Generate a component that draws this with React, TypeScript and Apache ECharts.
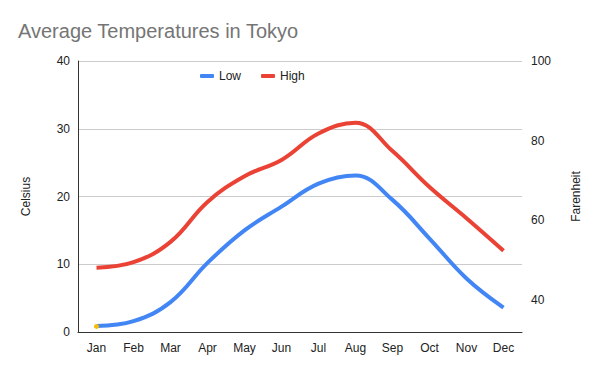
import React, { useEffect, useRef } from "react";
import * as echarts from "echarts";

const months = ["Jan", "Feb", "Mar", "Apr", "May", "Jun", "Jul", "Aug", "Sep", "Oct", "Nov", "Dec"];
const lowC = [0.9, 1.6, 4.4, 10.2, 15.0, 18.5, 21.9, 23.1, 19.5, 13.8, 7.9, 3.6];
const highC = [9.5, 10.3, 13.3, 19.2, 23.0, 25.4, 29.3, 30.9, 26.7, 21.4, 16.8, 12.0];
const fahrenheitPoint = [33.4, null, null, null, null, null, null, null, null, null, null, null];

export default function App() {
  const ref = useRef<HTMLDivElement>(null);
  useEffect(() => {
    if (!ref.current) return;
    const chart = echarts.init(ref.current, null, { renderer: "svg" });
    const font = "Liberation Sans, Arial, sans-serif";
    chart.setOption({
      animation: false,
      backgroundColor: "#ffffff",
      title: {
        text: "Average Temperatures in Tokyo",
        left: 13,
        top: 16,
        textStyle: { fontFamily: font, fontSize: 20, fontWeight: "normal", color: "#757575" },
      },
      legend: {
        data: ["Low", "High"],
        top: 65,
        left: 195,
        itemWidth: 14,
        itemHeight: 4,
        itemGap: 20,
        icon: "roundRect",
        textStyle: { fontFamily: font, fontSize: 12, color: "#222222" },
      },
      grid: { left: 78, right: 78, top: 61, bottom: 39, containLabel: false },
      xAxis: {
        type: "category",
        data: months,
        boundaryGap: true,
        axisLine: { lineStyle: { color: "#333333", width: 1 } },
        axisTick: { show: false },
        axisLabel: { fontFamily: font, fontSize: 12, color: "#222222", margin: 10 },
      },
      yAxis: [
        {
          type: "value",
          min: 0,
          max: 40,
          interval: 10,
          name: "Celsius",
          nameLocation: "middle",
          nameGap: 46,
          nameRotate: 90,
          nameTextStyle: { fontFamily: font, fontSize: 12, color: "#222222" },
          axisLine: { show: true, lineStyle: { color: "#333333" } },
          axisTick: { show: false },
          axisLabel: { fontFamily: font, fontSize: 12, color: "#222222", margin: 8 },
          splitLine: { lineStyle: { color: "#cccccc" } },
        },
        {
          type: "value",
          min: 32,
          max: 100,
          splitNumber: 3,
          position: "right",
          name: "Farenheit",
          nameLocation: "middle",
          nameGap: 48,
          nameRotate: 90,
          nameTextStyle: { fontFamily: font, fontSize: 12, color: "#222222" },
          axisLine: { show: false },
          axisTick: { show: false },
          axisLabel: {
            fontFamily: font,
            fontSize: 12,
            color: "#222222",
            margin: 9,
            showMinLabel: false,
            formatter: (v: number) => (v % 20 === 0 ? String(v) : ""),
          },
          splitLine: { show: false },
        },
      ],
      series: [
        {
          name: "Low",
          type: "line",
          data: lowC,
          smooth: 0.4,
          showSymbol: false,
          symbol: "none",
          lineStyle: { width: 4, color: "#4285f4" },
          itemStyle: { color: "#4285f4" },
          z: 3,
        },
        {
          name: "High",
          type: "line",
          data: highC,
          smooth: 0.4,
          showSymbol: false,
          symbol: "none",
          lineStyle: { width: 4, color: "#ea4335" },
          itemStyle: { color: "#ea4335" },
          z: 3,
        },
        {
          name: "Farenheit",
          type: "line",
          yAxisIndex: 1,
          data: fahrenheitPoint,
          symbol: "circle",
          symbolSize: 5,
          showSymbol: true,
          lineStyle: { width: 0 },
          itemStyle: { color: "#fbbc04" },
          z: 5,
        },
      ],
    });
    return () => chart.dispose();
  }, []);
  return <div ref={ref} style={{ width: 600, height: 371, margin: -8 }} />;
}
